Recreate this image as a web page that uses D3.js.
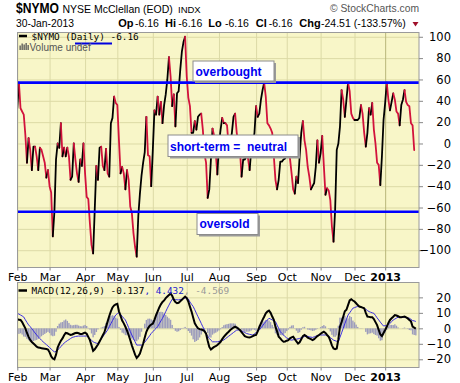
<!DOCTYPE html>
<html><head><meta charset="utf-8">
<script src="https://cdn.jsdelivr.net/npm/d3@7"></script>
<style>body{margin:0;background:#fff}svg{display:block}</style>
</head><body>
<script>
// ---------- data ----------
const monthLabels = ["Feb","Mar","Apr","May","Jun","Jul","Aug","Sep","Oct","Nov","Dec","2013"];
const monthStartIdx = [0,20,42,62,84,105,125,148,167,188,209,228];
const mainTicks = [-100,-80,-60,-40,-20,0,20,40,60,80,100];
const macdTicks = [-20,-10,0,10,20];
const overboughtLevel = 57;
const oversoldLevel = -64;

const nymo = [
33,57,33,30,27,8,-18,5,-6,-25,-3,-3,-12,-25,-4,-6,-12,-18,-32,-25,
-40,-46,-87,-64,-15,0,-4,19,-12,-4,-12,-4,-12,-34,-31,0,-15,-28,-36,-15,
-21,0,-28,-50,-52,-75,-95,-103,-62,-21,-34,-4,-3,-21,-25,-5,-28,-31,19,24,
44,38,36,3,-28,-22,-28,-43,-25,-34,-59,-65,-84,-97,-106,-68,-47,-30,-18,-8,
25,-11,-12,-40,-6,31,27,44,27,39,19,36,46,60,81,63,35,46,16,47,
49,69,86,95,100,63,43,35,10,10,21,13,25,27,28,13,-10,-18,-51,-43,
-15,14,7,-9,-29,0,13,24,19,19,17,-3,0,10,25,28,10,0,-6,-31,
-15,-15,-12,-14,-25,-6,0,10,35,25,28,41,50,57,44,19,17,14,10,-12,
-34,-43,-34,-17,-17,-15,-14,-9,-9,-14,-28,-43,-47,-31,-37,-12,10,21,3,-6,
-22,-31,-43,-40,-37,-22,3,-18,-9,7,-21,-48,-42,-44,-53,-78,-92,-62,-6,0,
16,50,41,25,41,57,49,28,24,22,22,22,24,36,28,10,-3,10,33,27,
38,13,0,-18,-20,-39,-12,22,38,57,41,31,39,47,41,30,28,17,36,41,
50,39,36,35,19,17,-6.16
];

const macd = [
5.8,5.6,5.4,4.0,2.0,0,-3,-5.5,-7.5,-8.8,-9.8,-10.8,-11.8,-12.4,-12.6,-12.8,-13,-13.2,-13.4,-13.7,
-15.5,-18,-19.5,-20,-17,-12.5,-10,-8,-6.5,-4.5,-3,-3.2,-3.8,-4.3,-4,-3.5,-3,-2.8,-3.2,-3.6,
-3.7,-3.2,-2.8,-3.5,-5.5,-7.6,-11,-14.5,-13.5,-12,-10.5,-8.5,-6.5,-4.5,-2.5,1,4.5,8,11,13.5,
14.8,15.5,15.8,11,8,5,3.2,1,-1.5,-4.3,-7.5,-11,-14,-17,-19.1,-18,-16.3,-13,-10,-6,
-2.2,0,1.5,2.5,3,5.5,8.5,11,13.5,15.5,17,18,19.5,20.5,21.5,22.5,21,18.5,17,16.2,
16.5,17.5,18.4,19.5,20.5,19.5,17.3,14,10.8,7,3.2,1.5,0,-0.5,-0.8,-1.1,-1.8,-3.5,-8,-12,
-13.7,-12.8,-12,-11.5,-10.8,-9.8,-8.7,-7,-5.5,-4.3,-3.2,-2.2,-1.1,-0.3,0.5,1.1,0.5,-0.3,-1.1,-2.5,
-3.8,-5,-5.5,-5.8,-5.9,-5.5,-5,-4.5,-4.3,-2,0.8,3.2,5.5,7.5,9.7,10.8,11.5,10,7.6,5.5,
1.1,-2,-5.4,-6.5,-7.8,-8.7,-8.5,-8,-7.6,-6.5,-5.8,-5.4,-7,-8.5,-9.8,-9,-7,-5,-4.3,-5,
-6,-6.5,-7,-7.6,-7,-6,-5,-4.3,-3.5,-2.8,-2.2,-3,-4.3,-5.4,-8,-11,-13,-13.5,-13,-7,
1.1,4,7.5,11,12,15,18,18.8,18,17.3,16.2,15,14.1,13.8,13.4,13,10,7.6,7.4,7.2,
7.2,6,4,2.1,-1,-4,-5,-3,-1.1,1,3.5,5.4,6.5,7.5,8.6,8.3,7.8,7.2,7.2,7.4,
7.6,7,6.4,5.4,4.5,1.1,0.5,-0.137
];

const signal = [
9.7,9.2,8.6,8,7.3,5.5,3.8,2.2,1.1,-0.3,-1.6,-3,-4.3,-5.5,-6.6,-7.7,-8.7,-9.6,-10.5,-11.4,
-12.4,-13.4,-14.4,-15.2,-14.8,-14,-13,-11.8,-10.6,-9.6,-8.7,-8,-7.3,-6.6,-5.9,-5.6,-5.3,-5.1,-5,-5,
-5,-5,-5,-5,-5.8,-6.8,-7.7,-8.7,-9.2,-9.6,-9.8,-8.5,-7,-5.4,-4,-2.5,-1,1.1,3,5,
6.8,8.6,9.5,10.1,9,7.8,6.5,5.4,3,0.5,-2,-4.3,-6.5,-8.7,-10.8,-10.8,-10.8,-10.8,-10,-9,
-7.6,-6.2,-4.8,-3.3,-2.2,-1,0,1.1,3,4.8,6.5,8.6,10.8,13,15,17,18.8,18.8,18.6,18.4,
18.4,18.6,18.8,19.2,19.6,19.9,19,17,15.5,14.1,12,9.7,7.5,5.4,3.2,1,-1,-3.3,-5,-6.5,
-7.7,-8.7,-8.7,-8.7,-8.7,-8.4,-8.1,-7.8,-7.5,-6.7,-5.9,-5.1,-4.3,-3.5,-2.7,-1.9,-1.1,-1.1,-1.1,-1.6,
-2.2,-2.7,-3.3,-3.6,-3.9,-4.1,-4.3,-3.5,-2.7,-1.9,-1.1,0.3,1.6,3,4.3,5.4,6.5,6,5.4,4.8,
4.3,2.1,0,-2.2,-3.3,-4.3,-5.4,-6.2,-6.8,-7.4,-7.6,-7.4,-7.2,-7,-6.8,-6.5,-6.1,-5.7,-5.3,-5,
-5.2,-5.5,-5.7,-5.9,-5.5,-5.1,-4.7,-4.3,-4.3,-4.3,-4.3,-4.3,-4.3,-5.1,-6,-6.8,-7.6,-8,-8.4,-8.7,
-5.8,-2.9,0,2.9,5.8,8.6,10,11.5,13,13.4,13.8,14.1,14,13.6,13.3,13,12.3,11.5,10.8,10.4,
10,9.7,8.3,6.8,5.4,4,2.7,1.5,1.7,1.9,2.1,3.2,4.3,5.4,6,6.6,7.2,7.2,7.2,7.2,
7.1,6.9,6.7,6.5,5.8,5,4.8,4.432
];
// MACD histogram = MACD - signal (definition of the indicator)
const hist = macd.map((m, i) => m - signal[i]);

// ---------- layout ----------
const W = 460, H = 383;
const PL = 17, PR = 419;
const mainTop = 32.5, mainBot = 267.5;
const macdTop = 282.5, macdBot = 367.5;
const BG = "#f8f6c8", GRID = "#dcdaa6", YEARGRID = "#b8b67a", BORDER = "#9a9a9a";
const RED = "#d2123c";

const svg = d3.select("body").append("svg").attr("width", W).attr("height", H)
  .style("font-family", "'Liberation Sans', Arial, sans-serif");

const x = d3.scaleLinear().domain([0, nymo.length - 1]).range([17.3, 414.2]);
const yMain = d3.scaleLinear().domain([-116.2, 104]).range([mainBot, mainTop]);
const yMacd = d3.scaleLinear().domain([-25.3, 29.6]).range([macdBot, macdTop]);

function panel(top, bot, y, ticks, clipId) {
  const g = svg.append("g");
  g.append("rect").attr("x", PL).attr("y", top).attr("width", PR - PL).attr("height", bot - top)
    .attr("fill", BG);
  g.append("g").attr("transform", `translate(${PL},0)`)
    .call(d3.axisRight(y).tickValues(ticks).tickSize(PR - PL).tickFormat(""))
    .call(s => s.select(".domain").remove())
    .call(s => s.selectAll("line").attr("stroke", GRID).attr("stroke-width", 1));
  g.append("g").attr("transform", `translate(0,${top})`)
    .call(d3.axisBottom(x).tickValues(monthStartIdx).tickSize(bot - top).tickFormat(""))
    .call(s => s.select(".domain").remove())
    .call(s => s.selectAll("line").attr("stroke", (d) => d === 228 ? YEARGRID : GRID).attr("stroke-width", 1));
  svg.append("clipPath").attr("id", clipId).append("rect")
    .attr("x", PL).attr("y", top).attr("width", PR - PL).attr("height", bot - top);
  return g;
}

function frame(top, bot, y, ticks, fmt) {
  svg.append("rect").attr("x", PL + 0.5).attr("y", top).attr("width", PR - PL - 0.5).attr("height", bot - top)
    .attr("fill", "none").attr("stroke", BORDER).attr("stroke-width", 1);
  const ax = svg.append("g").attr("transform", `translate(${PR},0)`)
    .call(d3.axisRight(y).tickValues(ticks).tickSize(4).tickPadding(4).tickFormat(fmt));
  ax.select(".domain").remove();
  ax.selectAll("line").attr("stroke", "#888");
  ax.selectAll("text").attr("font-size", 11.5).attr("fill", "#000")
    .attr("font-family", "'DejaVu Sans', Verdana, sans-serif").attr("text-anchor", "end").attr("dx", 24);
  const bx = svg.append("g").attr("transform", `translate(0,${bot})`)
    .call(d3.axisBottom(x).tickValues(monthStartIdx).tickSize(3).tickPadding(3)
      .tickFormat((d, i) => monthLabels[i]));
  bx.select(".domain").remove();
  bx.selectAll("line").attr("stroke", "#888");
  bx.selectAll("text").attr("font-size", 11).attr("fill", "#000")
    .attr("font-family", "'DejaVu Sans', Verdana, sans-serif")
    .attr("font-weight", (d) => d === 228 ? "bold" : "normal");
}

// ---------- main panel ----------
panel(mainTop, mainBot, yMain, mainTicks, "clipMain");
const gm = svg.append("g").attr("clip-path", "url(#clipMain)");

const line = d3.line().x(d => x(d[0])).y(d => yMain(d[1]));
let runs = [];
for (let i = 1; i < nymo.length; i++) {
  const up = nymo[i] >= nymo[i - 1];
  const last = runs[runs.length - 1];
  if (last && last.up === up) last.pts.push([i, nymo[i]]);
  else runs.push({up, pts: [[i - 1, nymo[i - 1]], [i, nymo[i]]]});
}
gm.selectAll("path.seg").data(runs).join("path").attr("class", "seg")
  .attr("d", r => line(r.pts)).attr("fill", "none")
  .attr("stroke", r => r.up ? "#000" : RED).attr("stroke-width", 1.8)
  .attr("stroke-linejoin", "round").attr("stroke-linecap", "round");

gm.selectAll("line.lvl").data([overboughtLevel, oversoldLevel]).join("line").attr("class", "lvl")
  .attr("x1", PL).attr("x2", PR).attr("y1", d => yMain(d)).attr("y2", d => yMain(d))
  .attr("stroke", "#0000ff").attr("stroke-width", 2.6);

frame(mainTop, mainBot, yMain, mainTicks, d3.format("d"));

function note(bx, by, bw, bh, tx, ty, txt) {
  svg.append("rect").attr("x", bx + 2.5).attr("y", by + 2.5).attr("width", bw).attr("height", bh).attr("fill", "#9a9a9a");
  svg.append("rect").attr("x", bx + 0.5).attr("y", by + 0.5).attr("width", bw).attr("height", bh)
    .attr("fill", "#fff").attr("stroke", "#8c8c8c").attr("stroke-width", 1);
  svg.append("text").attr("x", tx).attr("y", ty).text(txt).attr("fill", "#0000f0")
    .attr("font-weight", "bold").attr("font-size", 12).style("white-space", "pre")
    .attr("xml:space", "preserve");
}
note(192.5, 60.5, 81, 20, 195.5, 75.5, "overbought");
note(167.5, 134.5, 130, 21.5, 170, 150.5, "short-term =  neutral");
note(196.5, 213, 61, 21, 199.5, 228, "oversold");

// legend main
const mono = "'DejaVu Sans Mono', monospace";
svg.append("line").attr("x1", 19).attr("x2", 27).attr("y1", 36).attr("y2", 36).attr("stroke", "#000").attr("stroke-width", 2.5);
svg.append("text").attr("x", 31.5).attr("y", 39.5).attr("font-family", mono).attr("font-size", 9.4)
  .text("$NYMO (Daily) -6.16");
svg.append("line").attr("x1", 75).attr("x2", 112).attr("y1", 43.5).attr("y2", 43.5).attr("stroke", "#0000e0").attr("stroke-width", 2);
[[19.5,45.5],[21.5,43.5],[23.5,44.5],[25.5,43],[27.5,45]].forEach(p =>
  svg.append("rect").attr("x", p[0]).attr("y", p[1]).attr("width", 1.3).attr("height", 50 - p[1]).attr("fill", "#555"));
svg.append("text").attr("x", 29.5).attr("y", 50.5).attr("font-size", 10).attr("fill", "#555").text("Volume undef");

// ---------- MACD panel ----------
panel(macdTop, macdBot, yMacd, macdTicks, "clipMacd");
const gd = svg.append("g").attr("clip-path", "url(#clipMacd)");
gd.selectAll("rect.h").data(hist).join("rect").attr("class", "h")
  .attr("x", (d, i) => x(i) - 0.7).attr("width", 1.4)
  .attr("y", d => Math.min(yMacd(d), yMacd(0))).attr("height", d => Math.abs(yMacd(d) - yMacd(0)))
  .attr("fill", "#9c9cbc");
gd.append("path").datum(signal).attr("d", d3.line().x((d, i) => x(i)).y(d => yMacd(d)))
  .attr("fill", "none").attr("stroke", "#3a2ee0").attr("stroke-width", 1);
gd.append("path").datum(macd).attr("d", d3.line().x((d, i) => x(i)).y(d => yMacd(d)))
  .attr("fill", "none").attr("stroke", "#000").attr("stroke-width", 2);
frame(macdTop, macdBot, yMacd, macdTicks, d3.format("d"));

svg.append("line").attr("x1", 18.5).attr("x2", 27).attr("y1", 290.5).attr("y2", 290.5).attr("stroke", "#000").attr("stroke-width", 2.5);
const lt = svg.append("text").attr("x", 31.5).attr("y", 294).attr("font-family", mono).attr("font-size", 9.4);
lt.append("tspan").text("MACD(12,26,9) -0.137");
lt.append("tspan").attr("fill", "#2020d0").text(", 4.432");
lt.append("tspan").attr("fill", "#999").text(", -4.569");

// ---------- header ----------
svg.append("text").attr("x", 16).attr("y", 12.7).attr("font-weight", "bold").attr("font-size", 14)
  .attr("textLength", 43).attr("lengthAdjust", "spacingAndGlyphs").text("$NYMO");
svg.append("text").attr("x", 62.5).attr("y", 12.5).attr("font-size", 10.5).text("NYSE McClellan (EOD)");
svg.append("text").attr("x", 178).attr("y", 12.5).attr("font-size", 9.5).text("INDX");
svg.append("text").attr("x", 330).attr("y", 12).attr("font-size", 11).attr("fill", "#555")
  .attr("textLength", 89).attr("lengthAdjust", "spacingAndGlyphs").text("© StockCharts.com");

svg.append("text").attr("x", 16).attr("y", 27).attr("font-size", 10.5)
  .attr("textLength", 58).attr("lengthAdjust", "spacingAndGlyphs").text("30-Jan-2013");
const quote = [
  ["Op", 118.3, true], ["-6.16", 135, false], ["Hi", 165, true], ["-6.16", 178.3, false],
  ["Lo", 208.3, true], ["-6.16", 225, false], ["Cl", 255.7, true], ["-6.16", 268.7, false],
  ["Chg", 299.3, true], ["-24.51 (-133.57%)", 321, false]
];
quote.forEach(q => svg.append("text").attr("x", q[1]).attr("y", 27)
  .attr("font-size", q[2] ? 11 : 10.5).attr("font-weight", q[2] ? "bold" : "normal").text(q[0]));
svg.append("path").attr("d", "M412.5,22 L418.5,22 L415.5,26.5 Z").attr("fill", "#a0102a");
</script>
</body></html>
